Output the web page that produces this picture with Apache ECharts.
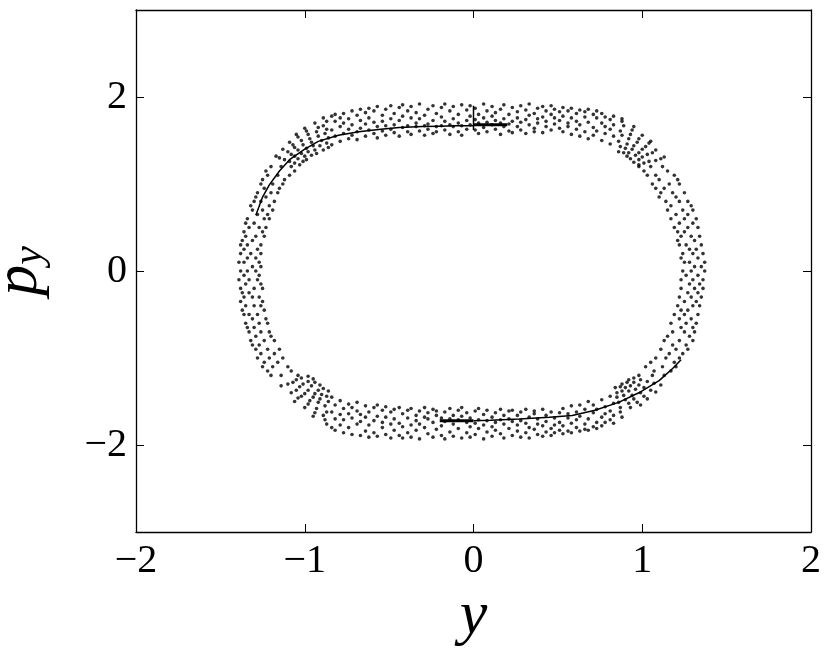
<!DOCTYPE html>
<html>
<head>
<meta charset="utf-8">
<script src="https://cdn.jsdelivr.net/npm/echarts@6/dist/echarts.min.js"></script>
<style>
  html, body { margin: 0; background: #fff; }
  #chart { width: 831px; height: 655px; }
</style>
</head>
<body>
<div id="chart"></div>
<script>
// tick labels
var xTicks = [-2, -1, 0, 1, 2];
var yTicks = [-2, 0, 2];

// ring of points
// top / bottom of the ring: [y-position, [p_y values]]
var topBand = [
  [-0.84, [1.78, 1.62, 1.45]], [-0.82, [1.72, 1.55, 1.80]], [-0.79, [1.66, 1.49, 1.76]],
  [-0.77, [1.81, 1.58, 1.70]], [-0.74, [1.52, 1.75, 1.63]], [-0.72, [1.84, 1.68, 1.56]],
  [-0.69, [1.60, 1.79, 1.51]], [-0.67, [1.73, 1.86, 1.64]], [-0.64, [1.55, 1.69, 1.82]],
  [-0.62, [1.87, 1.62, 1.76]], [-0.59, [1.58, 1.71, 1.84]], [-0.57, [1.66, 1.89, 1.53]],
  [-0.54, [1.79, 1.61, 1.72]], [-0.52, [1.56, 1.86, 1.67]], [-0.49, [1.75, 1.90, 1.63]],
  [-0.47, [1.59, 1.81, 1.68]], [-0.44, [1.88, 1.55, 1.73]], [-0.42, [1.65, 1.78, 1.91]],
  [-0.39, [1.60, 1.84, 1.67]], [-0.37, [1.76, 1.57, 1.89]], [-0.34, [1.66, 1.82, 1.70]],
  [-0.32, [1.92, 1.61, 1.75]], [-0.29, [1.56, 1.79, 1.67]], [-0.27, [1.86, 1.69, 1.63]],
  [-0.24, [1.73, 1.90, 1.58]], [-0.22, [1.66, 1.81, 1.60]], [-0.19, [1.77, 1.88, 1.67]],
  [-0.17, [1.62, 1.72, 1.92]], [-0.14, [1.84, 1.57, 1.68]], [-0.12, [1.75, 1.66, 1.89]],
  [-0.09, [1.60, 1.80, 1.70]], [-0.07, [1.91, 1.67, 1.56]], [-0.04, [1.73, 1.85, 1.63]],
  [-0.02, [1.68, 1.78, 1.90]], [0.01, [1.62, 1.87, 1.74]], [0.03, [1.80, 1.70, 1.58]],
  [0.06, [1.92, 1.65, 1.76]], [0.08, [1.71, 1.84, 1.60]], [0.11, [1.78, 1.68, 1.89]],
  [0.13, [1.63, 1.82, 1.73]], [0.16, [1.86, 1.57, 1.70]], [0.18, [1.75, 1.91, 1.66]],
  [0.21, [1.61, 1.80, 1.69]], [0.23, [1.88, 1.72, 1.59]], [0.26, [1.66, 1.83, 1.76]],
  [0.28, [1.90, 1.62, 1.71]], [0.31, [1.74, 1.58, 1.85]], [0.33, [1.68, 1.79, 1.92]],
  [0.36, [1.81, 1.64, 1.60]], [0.38, [1.70, 1.87, 1.75]], [0.41, [1.59, 1.77, 1.89]],
  [0.43, [1.84, 1.66, 1.72]], [0.46, [1.62, 1.80, 1.90]], [0.48, [1.76, 1.69, 1.86]],
  [0.51, [1.64, 1.83, 1.73]], [0.53, [1.88, 1.60, 1.78]], [0.56, [1.70, 1.84, 1.66]],
  [0.58, [1.57, 1.76, 1.87]], [0.61, [1.81, 1.63, 1.72]], [0.63, [1.68, 1.85, 1.55]],
  [0.66, [1.77, 1.60, 1.83]], [0.68, [1.52, 1.71, 1.86]], [0.71, [1.80, 1.65, 1.56]],
  [0.73, [1.61, 1.76, 1.84]], [0.76, [1.70, 1.50, 1.81]], [0.78, [1.58, 1.77, 1.66]],
  [0.81, [1.74, 1.46, 1.63]], [0.83, [1.55, 1.68, 1.78]]
];
var bottomBand = [
  [-0.84, [-1.80, -1.62, -1.45]], [-0.82, [-1.70, -1.54, -1.83]], [-0.79, [-1.65, -1.49, -1.77]],
  [-0.77, [-1.86, -1.58, -1.71]], [-0.74, [-1.53, -1.80, -1.64]], [-0.72, [-1.88, -1.69, -1.57]],
  [-0.69, [-1.61, -1.76, -1.51]], [-0.67, [-1.73, -1.89, -1.65]], [-0.64, [-1.55, -1.68, -1.84]],
  [-0.62, [-1.91, -1.62, -1.77]], [-0.59, [-1.57, -1.72, -1.86]], [-0.57, [-1.67, -1.90, -1.54]],
  [-0.54, [-1.80, -1.60, -1.74]], [-0.52, [-1.56, -1.88, -1.68]], [-0.49, [-1.76, -1.92, -1.62]],
  [-0.47, [-1.59, -1.83, -1.70]], [-0.44, [-1.89, -1.57, -1.75]], [-0.42, [-1.64, -1.79, -1.92]],
  [-0.39, [-1.60, -1.86, -1.69]], [-0.37, [-1.77, -1.58, -1.91]], [-0.34, [-1.66, -1.83, -1.72]],
  [-0.32, [-1.93, -1.61, -1.76]], [-0.29, [-1.57, -1.80, -1.68]], [-0.27, [-1.87, -1.70, -1.63]],
  [-0.24, [-1.74, -1.91, -1.59]], [-0.22, [-1.66, -1.82, -1.61]], [-0.19, [-1.78, -1.89, -1.69]],
  [-0.17, [-1.62, -1.73, -1.93]], [-0.14, [-1.85, -1.58, -1.70]], [-0.12, [-1.76, -1.66, -1.90]],
  [-0.09, [-1.60, -1.81, -1.71]], [-0.07, [-1.92, -1.67, -1.57]], [-0.04, [-1.74, -1.86, -1.63]],
  [-0.02, [-1.69, -1.79, -1.91]], [0.01, [-1.61, -1.88, -1.75]], [0.03, [-1.81, -1.71, -1.58]],
  [0.06, [-1.93, -1.65, -1.77]], [0.08, [-1.72, -1.85, -1.60]], [0.11, [-1.79, -1.68, -1.90]],
  [0.13, [-1.63, -1.83, -1.74]], [0.16, [-1.87, -1.59, -1.71]], [0.18, [-1.76, -1.92, -1.66]],
  [0.21, [-1.61, -1.81, -1.70]], [0.23, [-1.89, -1.73, -1.60]], [0.26, [-1.66, -1.84, -1.77]],
  [0.28, [-1.91, -1.62, -1.72]], [0.31, [-1.75, -1.59, -1.86]], [0.33, [-1.68, -1.80, -1.92]],
  [0.36, [-1.82, -1.64, -1.61]], [0.38, [-1.70, -1.88, -1.76]], [0.41, [-1.59, -1.78, -1.90]],
  [0.43, [-1.85, -1.66, -1.73]], [0.46, [-1.62, -1.81, -1.89]], [0.48, [-1.77, -1.69, -1.86]],
  [0.51, [-1.63, -1.83, -1.74]], [0.53, [-1.87, -1.58, -1.78]], [0.56, [-1.69, -1.84, -1.64]],
  [0.58, [-1.55, -1.75, -1.86]], [0.61, [-1.80, -1.62, -1.71]], [0.63, [-1.67, -1.84, -1.54]],
  [0.66, [-1.76, -1.59, -1.82]], [0.68, [-1.50, -1.70, -1.83]], [0.71, [-1.79, -1.63, -1.54]],
  [0.73, [-1.59, -1.74, -1.81]], [0.76, [-1.68, -1.48, -1.78]], [0.78, [-1.56, -1.74, -1.64]],
  [0.81, [-1.71, -1.44, -1.61]], [0.83, [-1.52, -1.66, -1.75]]
];
// sides of the ring: [p_y value, [y-positions]]
var leftBand = [
  [1.20, [-1.20, -1.08, -1.14]], [1.15, [-1.23, -1.06]], [1.10, [-1.16, -1.22, -1.09]],
  [1.05, [-1.25, -1.12]], [1.00, [-1.19, -1.26, -1.13]], [0.95, [-1.15, -1.24]],
  [0.90, [-1.28, -1.20, -1.16]], [0.85, [-1.23, -1.29]], [0.80, [-1.18, -1.26, -1.30]],
  [0.75, [-1.32, -1.21]], [0.70, [-1.25, -1.19, -1.31]], [0.65, [-1.28, -1.22]],
  [0.60, [-1.34, -1.24, -1.21]], [0.55, [-1.30, -1.35]], [0.50, [-1.23, -1.33, -1.27]],
  [0.45, [-1.36, -1.25]], [0.40, [-1.29, -1.24, -1.35]], [0.35, [-1.37, -1.31]],
  [0.30, [-1.26, -1.34, -1.38]], [0.25, [-1.28, -1.36]], [0.20, [-1.38, -1.26, -1.32]],
  [0.15, [-1.34, -1.29]], [0.10, [-1.27, -1.39, -1.36]], [0.05, [-1.31, -1.26]],
  [0.00, [-1.38, -1.29, -1.34]], [-0.05, [-1.27, -1.36]], [-0.10, [-1.33, -1.39, -1.28]],
  [-0.15, [-1.26, -1.35]], [-0.20, [-1.38, -1.30, -1.25]], [-0.25, [-1.33, -1.37]],
  [-0.30, [-1.27, -1.36, -1.31]], [-0.35, [-1.38, -1.25]], [-0.40, [-1.30, -1.35, -1.26]],
  [-0.45, [-1.24, -1.37]], [-0.50, [-1.33, -1.28, -1.36]], [-0.55, [-1.23, -1.31]],
  [-0.60, [-1.35, -1.27, -1.22]], [-0.65, [-1.30, -1.34]], [-0.70, [-1.21, -1.33, -1.26]],
  [-0.75, [-1.29, -1.20]], [-0.80, [-1.32, -1.24, -1.18]], [-0.85, [-1.27, -1.31]],
  [-0.90, [-1.15, -1.22, -1.29]], [-0.95, [-1.26, -1.18]], [-1.00, [-1.13, -1.28, -1.21]],
  [-1.05, [-1.24, -1.16]], [-1.10, [-1.10, -1.19, -1.25]], [-1.15, [-1.22, -1.08]],
  [-1.20, [-1.14, -1.04, -1.20]]
];
var rightBand = [
  [1.20, [0.98, 1.12, 1.05]], [1.15, [1.15, 1.01]], [1.10, [1.08, 1.19, 1.03]],
  [1.05, [1.21, 1.10]], [1.00, [1.06, 1.16, 1.22]], [0.95, [1.13, 1.08]],
  [0.90, [1.25, 1.11, 1.18]], [0.85, [1.20, 1.10]], [0.80, [1.14, 1.27, 1.22]],
  [0.75, [1.29, 1.17]], [0.70, [1.15, 1.24, 1.30]], [0.65, [1.20, 1.27]],
  [0.60, [1.32, 1.17, 1.25]], [0.55, [1.22, 1.30]], [0.50, [1.19, 1.33, 1.27]],
  [0.45, [1.25, 1.21]], [0.40, [1.34, 1.23, 1.29]], [0.35, [1.31, 1.21]],
  [0.30, [1.26, 1.35, 1.22]], [0.25, [1.32, 1.28]], [0.20, [1.24, 1.36, 1.30]],
  [0.15, [1.23, 1.33]], [0.10, [1.37, 1.28, 1.25]], [0.05, [1.31, 1.35]],
  [0.00, [1.24, 1.37, 1.29]], [-0.05, [1.33, 1.26]], [-0.10, [1.36, 1.23, 1.30]],
  [-0.15, [1.28, 1.34]], [-0.20, [1.23, 1.36, 1.31]], [-0.25, [1.27, 1.33]],
  [-0.30, [1.35, 1.22, 1.29]], [-0.35, [1.25, 1.32]], [-0.40, [1.30, 1.21, 1.34]],
  [-0.45, [1.27, 1.23]], [-0.50, [1.33, 1.19, 1.25]], [-0.55, [1.29, 1.22]],
  [-0.60, [1.17, 1.32, 1.26]], [-0.65, [1.23, 1.30]], [-0.70, [1.31, 1.18, 1.25]],
  [-0.75, [1.15, 1.28]], [-0.80, [1.22, 1.30, 1.13]], [-0.85, [1.26, 1.18]],
  [-0.90, [1.11, 1.27, 1.20]], [-0.95, [1.16, 1.24]], [-1.00, [1.08, 1.22, 1.14]],
  [-1.05, [1.19, 1.05]], [-1.10, [1.12, 1.20, 1.02]], [-1.15, [1.07, 1.17]],
  [-1.20, [1.13, 0.98, 1.06]]
];
// corners of the ring: [y, p_y]
var cornerTopLeft = [
  [-0.86, 1.42], [-0.87, 1.47], [-0.86, 1.53], [-0.88, 1.58], [-0.87, 1.63], [-0.89, 1.67], [-0.87, 1.72], [-0.89, 1.76],
  [-0.89, 1.39], [-0.91, 1.44], [-0.90, 1.50], [-0.92, 1.55], [-0.93, 1.60], [-0.92, 1.65], [-0.94, 1.70],
  [-0.93, 1.35], [-0.94, 1.39], [-0.95, 1.44], [-0.96, 1.48], [-0.97, 1.52], [-0.98, 1.57], [-0.99, 1.61], [-1.00, 1.64],
  [-0.96, 1.33], [-0.98, 1.37], [-0.99, 1.41], [-1.01, 1.45], [-1.02, 1.50], [-1.04, 1.54], [-1.05, 1.57],
  [-0.99, 1.28], [-1.00, 1.32], [-1.02, 1.35], [-1.04, 1.39], [-1.06, 1.42], [-1.07, 1.45], [-1.09, 1.48],
  [-1.01, 1.26], [-1.04, 1.29], [-1.06, 1.32], [-1.08, 1.34], [-1.10, 1.37], [-1.13, 1.40],
  [-1.03, 1.22], [-1.06, 1.24], [-1.09, 1.26], [-1.12, 1.28], [-1.15, 1.30], [-1.17, 1.32]
];
var cornerTopRight = [
  [0.86, 1.37], [0.87, 1.43], [0.86, 1.49], [0.88, 1.56], [0.87, 1.61], [0.89, 1.67], [0.88, 1.72], [0.88, 1.75],
  [0.89, 1.36], [0.90, 1.41], [0.91, 1.46], [0.92, 1.52], [0.93, 1.57], [0.94, 1.62], [0.95, 1.66],
  [0.91, 1.32], [0.92, 1.36], [0.94, 1.40], [0.95, 1.44], [0.97, 1.48], [0.98, 1.52], [1.00, 1.56],
  [0.93, 1.29], [0.96, 1.33], [0.98, 1.36], [1.00, 1.40], [1.02, 1.43], [1.04, 1.47], [1.05, 1.49],
  [0.95, 1.25], [0.98, 1.28], [1.00, 1.31], [1.03, 1.34], [1.06, 1.36], [1.08, 1.39],
  [0.98, 1.22], [1.01, 1.24], [1.04, 1.26], [1.08, 1.27], [1.11, 1.29], [1.13, 1.31]
];
var cornerBottomLeft = [
  [-0.86, -1.38], [-0.87, -1.44], [-0.86, -1.50], [-0.88, -1.55], [-0.87, -1.62], [-0.89, -1.66], [-0.88, -1.71], [-0.87, -1.76],
  [-0.89, -1.35], [-0.90, -1.42], [-0.91, -1.47], [-0.92, -1.51], [-0.93, -1.58], [-0.94, -1.63], [-0.95, -1.67],
  [-0.91, -1.31], [-0.92, -1.37], [-0.94, -1.41], [-0.95, -1.45], [-0.97, -1.49], [-0.98, -1.53], [-1.00, -1.57],
  [-0.94, -1.28], [-0.96, -1.32], [-0.98, -1.37], [-1.00, -1.41], [-1.02, -1.44], [-1.04, -1.46], [-1.06, -1.50],
  [-0.95, -1.24], [-0.98, -1.27], [-1.01, -1.30], [-1.03, -1.33], [-1.05, -1.37], [-1.08, -1.40],
  [-0.98, -1.21], [-1.02, -1.23], [-1.05, -1.25], [-1.07, -1.28], [-1.10, -1.30], [-1.14, -1.32]
];
var cornerBottomRight = [
  [0.84, -1.34], [0.85, -1.40], [0.85, -1.45], [0.86, -1.51], [0.87, -1.57], [0.87, -1.62], [0.88, -1.68],
  [0.87, -1.33], [0.88, -1.38], [0.89, -1.43], [0.90, -1.48], [0.92, -1.52], [0.93, -1.57],
  [0.88, -1.30], [0.90, -1.34], [0.92, -1.38], [0.94, -1.43], [0.95, -1.47], [0.97, -1.51], [0.99, -1.54],
  [0.91, -1.28], [0.93, -1.32], [0.96, -1.36], [0.99, -1.40], [1.01, -1.44], [1.03, -1.47],
  [0.92, -1.25], [0.95, -1.28], [0.98, -1.31], [1.01, -1.34], [1.05, -1.37], [1.08, -1.39],
  [0.95, -1.23], [0.99, -1.25], [1.03, -1.27], [1.07, -1.29], [1.11, -1.31]
];

// solid curves
var upperCurve = [
  [-1.29, 0.64], [-1.25, 0.85], [-1.21, 0.99], [-1.15, 1.15], [-1.09, 1.28], [-1.00, 1.40],
  [-0.92, 1.49], [-0.80, 1.56], [-0.68, 1.60], [-0.55, 1.63], [-0.44, 1.65], [-0.30, 1.66],
  [-0.20, 1.665], [-0.10, 1.67], [0.00, 1.67]
];
var upperBold = [[0.00, 1.68], [0.20, 1.68]];
var upperStem = [[0.00, 1.62], [0.00, 1.90]];
var lowerBold = [[-0.20, -1.72], [0.00, -1.72]];
var lowerCurve = [
  [0.00, -1.72], [0.10, -1.715], [0.27, -1.70], [0.45, -1.68], [0.585, -1.66], [0.72, -1.60],
  [0.86, -1.51], [0.98, -1.40], [1.10, -1.26], [1.18, -1.12], [1.23, -1.02]
];

function toPoints(band, across) {
  var out = [];
  band.forEach(function (row) {
    row[1].forEach(function (v) {
      out.push(across ? [row[0], v] : [v, row[0]]);
    });
  });
  return out;
}
var ringPoints = [].concat(
  toPoints(topBand, true), toPoints(bottomBand, true),
  toPoints(leftBand, false), toPoints(rightBand, false),
  cornerTopLeft, cornerTopRight, cornerBottomLeft, cornerBottomRight
);

var serif = "'Liberation Serif', 'DejaVu Serif', serif";
var minus = function (v) { return v < 0 ? '\u2212' + (-v) : String(v); };
var axisLine = { show: true, onZero: false, lineStyle: { color: '#000', width: 1.3 } };
var tickStyle = { color: '#000', width: 1 };

var chart = echarts.init(document.getElementById('chart'));
var option = {
  animation: false,
  backgroundColor: '#fff',
  grid: { left: 136, right: 20, top: 10, bottom: 123, containLabel: false, outerBoundsMode: 'none' },
  xAxis: [
    {
      type: 'value', min: -2, max: 2, interval: 1, position: 'bottom',
      axisLine: axisLine,
      axisTick: { inside: true, length: 8, lineStyle: tickStyle },
      splitLine: { show: false },
      axisLabel: { fontFamily: serif, fontSize: 40, color: '#000', margin: 9, formatter: minus },
      name: 'y', nameLocation: 'middle', nameGap: 46,
      nameTextStyle: { fontFamily: serif, fontStyle: 'italic', fontSize: 62, color: '#000' }
    },
    {
      type: 'value', min: -2, max: 2, interval: 1, position: 'top',
      axisLine: axisLine,
      axisTick: { inside: true, length: 8, lineStyle: tickStyle },
      splitLine: { show: false },
      axisLabel: { show: false }
    }
  ],
  yAxis: [
    {
      type: 'value', min: -3, max: 3, position: 'left',
      axisLine: axisLine,
      axisTick: { inside: true, length: 8, lineStyle: tickStyle, customValues: yTicks },
      splitLine: { show: false },
      axisLabel: { fontFamily: serif, fontSize: 40, color: '#000', margin: 9, formatter: minus, customValues: yTicks },
      name: '{p|p}{s|y}', nameLocation: 'middle', nameGap: 85, nameRotate: 90,
      nameTextStyle: {
        color: '#000',
        rich: {
          p: { fontFamily: serif, fontStyle: 'italic', fontSize: 62, lineHeight: 62, color: '#000' },
          s: { fontFamily: serif, fontStyle: 'italic', fontSize: 42, lineHeight: 34, verticalAlign: 'bottom', color: '#000' }
        }
      }
    },
    {
      type: 'value', min: -3, max: 3, position: 'right',
      axisLine: axisLine,
      axisTick: { inside: true, length: 8, lineStyle: tickStyle, customValues: yTicks },
      splitLine: { show: false },
      axisLabel: { show: false, customValues: yTicks }
    }
  ],
  series: [
    {
      type: 'scatter', data: ringPoints, symbol: 'circle', symbolSize: 3.6,
      itemStyle: { color: '#000' }, silent: true
    },
    { type: 'line', data: upperCurve, showSymbol: false, lineStyle: { color: '#000', width: 1.5 }, silent: true },
    { type: 'line', data: upperBold, showSymbol: false, lineStyle: { color: '#000', width: 3 }, silent: true },
    { type: 'line', data: upperStem, showSymbol: false, lineStyle: { color: '#000', width: 1.5 }, silent: true },
    { type: 'line', data: lowerBold, showSymbol: false, lineStyle: { color: '#000', width: 3 }, silent: true },
    { type: 'line', data: lowerCurve, showSymbol: false, lineStyle: { color: '#000', width: 1.5 }, silent: true }
  ]
};
chart.setOption(option);
</script>
</body>
</html>
